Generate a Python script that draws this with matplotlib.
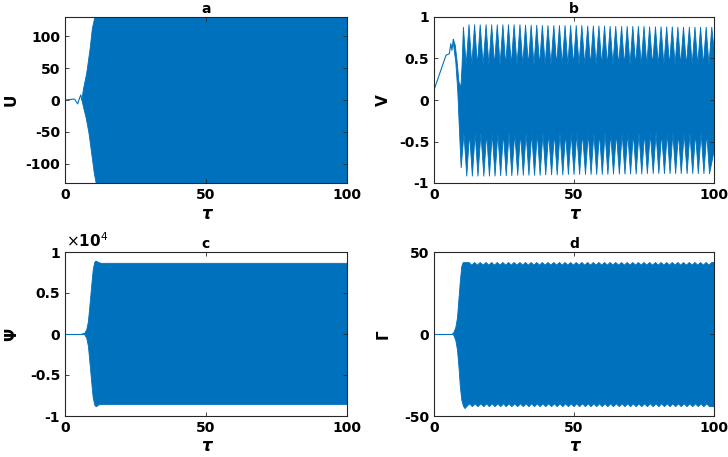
import numpy as np
import matplotlib
matplotlib.use('Agg')
import matplotlib.pyplot as plt

BLUE = '#0072BD'
AXC = '#262626'

# ---------------- data ----------------
# shared cycle times of the slow modulation (spikes in V, scallops in Gamma)
peak_t = [10.5, 12.5, 14.5, 16.5, 18.6, 20.6, 22.6, 24.6, 26.6, 28.6, 30.7,
          32.7, 34.7, 36.7, 38.7, 40.7, 42.8, 44.8, 46.8, 48.8, 50.8, 52.8,
          54.9, 56.9, 58.9, 60.9, 62.9, 64.9, 67.0, 69.0, 71.0, 73.0, 75.0,
          77.0, 79.1, 81.1, 83.1, 85.1, 87.1, 89.1, 91.2, 93.2, 95.2, 97.2, 99.2]
trough_t = [9.7, 11.7, 13.7, 15.7, 17.8, 19.8, 21.8, 23.8, 25.8, 27.8, 29.9,
            31.9, 33.9, 35.9, 37.9, 39.9, 42.0, 44.0, 46.0, 48.0, 50.0, 52.0,
            54.1, 56.1, 58.1, 60.1, 62.1, 64.1, 66.2, 68.2, 70.2, 72.2, 74.2,
            76.2, 78.3, 80.3, 82.3, 84.3, 86.3, 88.3, 90.4, 92.4, 94.4, 96.4, 98.4]

# panel a : U
a_line_t = [0, 1.5, 3.0, 3.5, 4.0, 4.5, 5.0, 5.6, 6.0]
a_line_u = [0, 0.5, 1.5, 1.0, -3, -6, 1, 8, 0]
a_up_t = [6.0, 6.5, 7.7, 8.9, 9.7, 10.8, 100]
a_up_u = [0, 16, 42, 80, 112, 134, 134]
a_lo_t = [6.0, 6.6, 7.5, 8.5, 9.5, 10.4, 11.2, 100]
a_lo_u = [0, -12, -28, -52, -85, -115, -134, -134]

# panel b : V
b_line_t = [0, 4.3, 5.0, 5.5, 6.0, 6.4, 6.9, 7.0]
b_line_v = [0.12, 0.54, 0.55, 0.56, 0.68, 0.60, 0.73, 0.72]
b_up_t0 = [7.0, 7.6, 8.3, 8.9, 9.6, 10.0]
b_up_v0 = [0.72, 0.66, 0.45, 0.22, 0.15, 0.40]
b_peak_v = [0.88, 0.91, 0.91, 0.91, 0.91, 0.91, 0.91, 0.91, 0.91, 0.91, 0.91,
            0.905, 0.905, 0.905, 0.90, 0.90, 0.90, 0.90, 0.90, 0.90, 0.90, 0.90,
            0.895, 0.895, 0.895, 0.895, 0.89, 0.89, 0.89, 0.89, 0.89, 0.89, 0.89,
            0.885, 0.885, 0.885, 0.885, 0.885, 0.88, 0.88, 0.88, 0.88, 0.88, 0.88, 0.88]
b_valley_up = 0.42
b_lo_t0 = [7.0, 7.8, 8.5, 9.0, 9.4]
b_lo_v0 = [0.66, 0.45, 0.10, -0.30, -0.60]
b_trough_v = [-0.82, -0.92, -0.92, -0.92, -0.92, -0.92, -0.92, -0.915, -0.915,
              -0.915, -0.91, -0.91, -0.91, -0.91, -0.91, -0.905, -0.905, -0.905,
              -0.905, -0.90, -0.90, -0.90, -0.90, -0.90, -0.90, -0.90, -0.90,
              -0.895, -0.895, -0.895, -0.895, -0.895, -0.895, -0.89, -0.89, -0.89,
              -0.89, -0.89, -0.89, -0.89, -0.89, -0.89, -0.89, -0.89, -0.89]
b_valley_lo = -0.40
b_end_up, b_end_lo = 0.62, -0.62

# panel c : Psi (x 1e4)
c_line_t = [0, 6.0]
c_line_p = [0, 0]
c_up_t = [6.0, 7.0, 7.7, 8.3, 8.9, 9.5, 10.0, 10.5, 11.0, 12.0, 13.0, 100]
c_up_p = [0, 100, 500, 1500, 3700, 6000, 7800, 8700, 8900, 8700, 8620, 8620]
c_lo_t = [6.0, 7.0, 7.7, 8.3, 8.9, 9.5, 10.0, 10.6, 11.1, 12.0, 13.0, 100]
c_lo_p = [0, -100, -500, -1500, -3700, -6000, -7800, -8700, -8880, -8650, -8600, -8600]

# panel d : Gamma
d_line_t = [0, 6.5]
d_line_g = [0, 0]
d_up_t0 = [6.5, 7.0, 7.8, 8.4, 8.8, 9.4, 9.9]
d_up_g0 = [0, 0.5, 4, 10, 19, 32, 41]
d_scallop_up, d_notch_up = 43.6, 42.0
d_lo_t0 = [6.5, 7.0, 7.8, 8.4, 8.9, 9.4, 9.9, 10.5, 11.1]
d_lo_g0 = [0, -0.5, -4, -10, -20, -32, -40, -44, -45.5]
d_scallop_lo, d_notch_lo = -44.3, -42.6

# ---------------- helpers ----------------
def zigzag(times, values, valley, t_end, v_end):
    xs, ys = [], []
    for i, (t, v) in enumerate(zip(times, values)):
        xs.append(t); ys.append(v)
        if i + 1 < len(times):
            xs.append(0.5 * (t + times[i + 1])); ys.append(valley)
    xs.append(t_end); ys.append(v_end)
    return xs, ys

def band(ax, ux, uy, lx, ly):
    px = list(ux) + list(lx)[::-1]
    py = list(uy) + list(ly)[::-1]
    ax.fill(px, py, color=BLUE, lw=0.6, ec=BLUE)

def style(ax, title, ylabel, ylim, yticks, yticklabels, lab_x):
    ax.set_xlim(0, 100)
    ax.set_ylim(*ylim)
    ax.set_xticks([0, 50, 100])
    ax.set_yticks(yticks)
    ax.set_yticklabels(yticklabels)
    ax.tick_params(direction='in', length=3, width=0.6, top=True, right=True,
                   colors=AXC, labelcolor='black', labelsize=10, pad=3.5)
    for lbl in ax.get_xticklabels() + ax.get_yticklabels():
        lbl.set_fontweight('bold')
    for s in ax.spines.values():
        s.set_color(AXC); s.set_linewidth(0.8)
    ax.set_title(title, fontweight='bold', fontsize=10, pad=3)
    ax.set_ylabel(ylabel, fontweight='bold', fontsize=11)
    ax.yaxis.set_label_coords(lab_x, 0.5)
    ax.set_xlabel('τ', fontsize=12, fontweight='bold', style='italic')
    ax.xaxis.set_label_coords(0.5, -0.13)

fig = plt.figure(figsize=(7.28, 4.57), dpi=100)
plt.rcParams['font.family'] = ['DejaVu Sans']

W, H = 728.0, 457.0
def axes_px(l, t, r, b):
    return fig.add_axes([l / W, 1 - b / H, (r - l) / W, (b - t) / H])

ax_a = axes_px(65, 17, 347, 183)
ax_b = axes_px(434, 17, 714, 183)
ax_c = axes_px(65, 252, 347, 416)
ax_d = axes_px(434, 252, 714, 416)

# a
ax_a.plot(a_line_t, a_line_u, color=BLUE, lw=0.8)
band(ax_a, a_up_t, a_up_u, a_lo_t, a_lo_u)
style(ax_a, 'a', 'U', (-130, 130), [-100, -50, 0, 50, 100],
      ['-100', '-50', '0', '50', '100'], -0.165)

# b
ax_b.plot(b_line_t, b_line_v, color=BLUE, lw=0.8)
zx, zy = zigzag(peak_t, b_peak_v, b_valley_up, 100, b_end_up)
lx, ly = zigzag(trough_t, b_trough_v, b_valley_lo, 100, b_end_lo)
band(ax_b, b_up_t0 + zx, b_up_v0 + zy, b_lo_t0 + lx, b_lo_v0 + ly)
style(ax_b, 'b', 'V', (-1, 1), [-1, -0.5, 0, 0.5, 1],
      ['-1', '-0.5', '0', '0.5', '1'], -0.154)

# c
ax_c.plot(c_line_t, c_line_p, color=BLUE, lw=0.8)
band(ax_c, c_up_t, c_up_p, c_lo_t, c_lo_p)
style(ax_c, 'c', 'Ψ', (-1e4, 1e4), [-1e4, -5e3, 0, 5e3, 1e4],
      ['-1', '-0.5', '0', '0.5', '1'], -0.163)
ax_c.text(0.005, 1.01, r'$\times$10$^{4}$', transform=ax_c.transAxes,
          ha='left', va='bottom', fontsize=11, fontweight='bold')

# d
ax_d.plot(d_line_t, d_line_g, color=BLUE, lw=0.8)
sx = [t for t in peak_t if t > 10.5]
ux, uy = zigzag(sx, [d_scallop_up] * len(sx), d_notch_up, 100, d_scallop_up)
tx = [t for t in trough_t if t > 11.5]
lx2, ly2 = zigzag(tx, [d_scallop_lo] * len(tx), d_notch_lo, 100, d_scallop_lo)
band(ax_d, d_up_t0 + [10.4] + ux, d_up_g0 + [43.5] + uy,
     d_lo_t0 + lx2, d_lo_g0 + ly2)
style(ax_d, 'd', 'Γ', (-50, 50), [-50, 0, 50], ['-50', '0', '50'], -0.154)

fig.savefig('out.png', dpi=100)
